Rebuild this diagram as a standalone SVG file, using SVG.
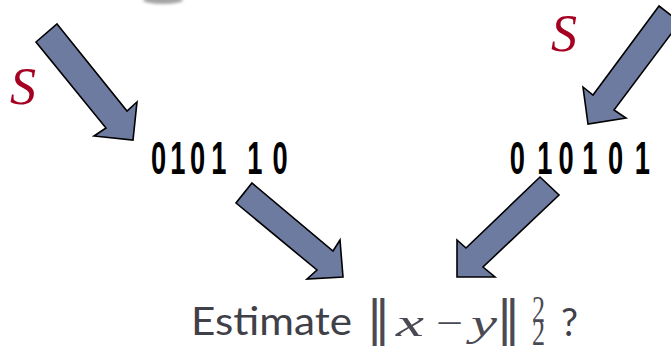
<svg xmlns="http://www.w3.org/2000/svg" width="671" height="348" viewBox="0 0 671 348">
<defs>
<filter id="blur" x="-50%" y="-100%" width="200%" height="300%"><feGaussianBlur stdDeviation="1.8"/></filter>
<style>
.arrow{fill:#6E7BA0;stroke:#000;stroke-width:1.6;stroke-linejoin:miter}
.bits{font-family:"Liberation Sans",sans-serif;font-weight:bold;font-size:47px;fill:#000}
.s{font-family:"Liberation Serif",serif;font-style:italic;font-size:52px;fill:#A50021}
.est{font-family:"Lato","Open Sans","Liberation Sans",sans-serif;font-size:38px;fill:#404048}
.math{font-family:"Liberation Serif",serif;font-size:38px;fill:#4a4a54}
.bar{font-family:"DejaVu Sans",sans-serif;font-size:48px;fill:#4a4a54;text-anchor:middle}
</style>
</defs>
<rect width="671" height="348" fill="#fff"/>
<ellipse cx="163" cy="0" rx="20" ry="4" fill="#a4a4a4" filter="url(#blur)"/>
<g id="connectors">
<polygon class="arrow" points="57,24 127,111 137,102 133,140 94,136 106,128 36,42"/>
<polygon class="arrow" points="659,6 593,95 583,87 588,124 626,118 614,110 680,22"/>
<polygon class="arrow" points="252,183 333,251 340,240 343,277 307,279 317,270 236,203"/>
<polygon class="arrow" points="540,177 466,248 457,240 457,277 495,277 483,267 559,195"/>
</g>
<g id="s-left"><text class="s" x="10" y="104">S</text></g>
<g id="s-right"><text class="s" x="551" y="51">S</text></g>
<g id="bits-left"><text class="bits" transform="matrix(0.58,0,0,1,0,0)" x="260.2 293.6 327.4 364.3 426.4 469.7" y="174">010110</text></g>
<g id="bits-right"><text class="bits" transform="matrix(0.58,0,0,1,0,0)" x="879.1 926.4 962.8 1004.0 1048.1 1094.5" y="174">010101</text></g>
<g id="estimate">
<text class="est" x="191" y="335" textLength="161" lengthAdjust="spacingAndGlyphs">Estimate</text>
<text class="bar" x="378.5" y="335">‖</text>
<text class="math" x="396" y="336" font-style="italic" textLength="28" lengthAdjust="spacingAndGlyphs">x</text>
<text class="math" x="436" y="336" textLength="27" lengthAdjust="spacingAndGlyphs">−</text>
<text class="math" x="471" y="336" font-style="italic" textLength="26" lengthAdjust="spacingAndGlyphs">y</text>
<text class="bar" x="508.5" y="335">‖</text>
<text class="math" x="532" y="322" font-size="21" textLength="13" lengthAdjust="spacingAndGlyphs">2</text>
<text class="math" x="532" y="345" font-size="21" textLength="13" lengthAdjust="spacingAndGlyphs">2</text>
<text class="est" x="561" y="336">?</text>
</g>
</svg>
